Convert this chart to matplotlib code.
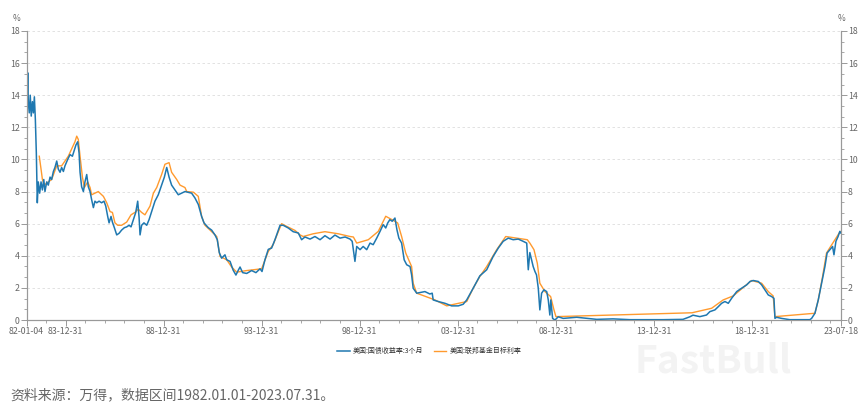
import matplotlib.pyplot as plt
from matplotlib.ticker import MultipleLocator, FixedLocator
import numpy as np

plt.rcParams['font.family'] = ['Noto Sans CJK SC', 'DejaVu Sans']

# 3-month T-bill yield (decimal year, %)
tbill_t = [1982.01, 1982.07, 1982.10, 1982.15, 1982.20, 1982.25, 1982.31, 1982.36, 1982.41, 1982.46,
           1982.51, 1982.56, 1982.61, 1982.68, 1982.75, 1982.82, 1982.89, 1982.95, 1983.04, 1983.12,
           1983.21, 1983.29, 1983.38, 1983.46, 1983.55, 1983.63, 1983.72, 1983.80, 1983.89, 1983.97,
           1984.11, 1984.23, 1984.35, 1984.45, 1984.53, 1984.62, 1984.69, 1984.74, 1984.82, 1984.91,
           1984.99, 1985.08, 1985.16, 1985.25, 1985.33, 1985.42, 1985.50, 1985.59, 1985.71, 1985.84,
           1985.96, 1986.05, 1986.15, 1986.22, 1986.32, 1986.39, 1986.49, 1986.61, 1986.73, 1986.86,
           1987.00, 1987.12, 1987.24, 1987.34, 1987.46, 1987.58, 1987.68, 1987.75, 1987.80, 1987.88,
           1988.00, 1988.14, 1988.26, 1988.39, 1988.56, 1988.73, 1988.90, 1989.04, 1989.16, 1989.28,
           1989.41, 1989.58, 1989.75, 1989.92, 1990.09, 1990.43, 1990.60, 1990.77, 1990.94, 1991.06,
           1991.28, 1991.45, 1991.62, 1991.74, 1991.84, 1991.96, 1992.13, 1992.22, 1992.39, 1992.55,
           1992.69, 1992.81, 1992.90, 1993.03, 1993.24, 1993.49, 1993.71, 1993.92, 1994.02, 1994.17,
           1994.34, 1994.51, 1994.68, 1994.85, 1994.94, 1995.10, 1995.36, 1995.61, 1995.87, 1996.04,
           1996.21, 1996.47, 1996.72, 1996.98, 1997.23, 1997.49, 1997.74, 1998.00, 1998.26, 1998.51,
           1998.62, 1998.76, 1998.85, 1999.02, 1999.18, 1999.36, 1999.53, 1999.69, 1999.87, 2000.04,
           2000.20, 2000.33, 2000.43, 2000.54, 2000.66, 2000.80, 2000.90, 2001.00, 2001.14, 2001.27,
           2001.40, 2001.57, 2001.65, 2001.73, 2001.91, 2002.07, 2002.33, 2002.58, 2002.70, 2002.75,
           2003.01, 2003.35, 2003.69, 2004.03, 2004.28, 2004.46, 2004.79, 2005.13, 2005.48, 2005.81,
           2006.07, 2006.32, 2006.58, 2006.83, 2007.09, 2007.34, 2007.52, 2007.60, 2007.68, 2007.85,
           2007.94, 2008.02, 2008.11, 2008.19, 2008.28, 2008.40, 2008.54, 2008.62, 2008.70, 2008.75,
           2008.84, 2008.96, 2009.13, 2009.38, 2010.07, 2011.09, 2011.92, 2012.79, 2014.47, 2015.49,
           2015.84, 2016.00, 2016.35, 2016.69, 2016.86, 2017.12, 2017.29, 2017.46, 2017.63, 2017.80,
           2017.97, 2018.23, 2018.48, 2018.74, 2018.91, 2019.07, 2019.33, 2019.50, 2019.67, 2019.84,
           2020.01, 2020.13, 2020.18, 2020.26, 2020.52, 2020.94, 2021.96, 2022.05, 2022.22, 2022.39,
           2022.56, 2022.73, 2022.84, 2022.98, 2023.12, 2023.19, 2023.29, 2023.40, 2023.49, 2023.54]
tbill_v = [12.1, 15.4, 13.6, 12.9, 14.0, 12.7, 13.6, 12.9, 13.9, 12.5,
           10.4, 7.3, 8.6, 7.9, 8.6, 8.1, 8.75, 8.0, 8.6, 8.4,
           8.9, 8.75, 9.25, 9.5, 9.9, 9.4, 9.2, 9.5, 9.25, 9.6,
           10.0, 10.3, 10.2, 10.6, 10.9, 11.1, 10.4, 9.2, 8.3, 8.0,
           8.6, 9.06, 8.3, 8.0, 7.5, 7.0, 7.4, 7.3, 7.4, 7.3,
           7.4, 7.1, 6.45, 6.05, 6.45, 6.1, 5.75, 5.3, 5.4, 5.6,
           5.75, 5.8, 5.9, 5.8, 6.25, 6.7, 7.4, 6.4, 5.3, 5.9,
           6.05, 5.9, 6.25, 6.75, 7.4, 7.8, 8.4, 8.9, 9.5, 8.9,
           8.4, 8.1, 7.8, 7.9, 8.0, 7.9, 7.6, 7.2, 6.45, 6.05,
           5.75, 5.6, 5.3, 5.0, 4.2, 3.85, 4.06, 3.75, 3.65, 3.1,
           2.8, 3.1, 3.3, 2.95, 2.9, 3.08, 2.95, 3.19, 3.02, 3.75,
           4.4, 4.48, 5.0, 5.6, 5.9, 5.9, 5.73, 5.5, 5.42, 5.0,
           5.17, 5.04, 5.2, 5.0, 5.25, 5.04, 5.29, 5.1, 5.17, 5.04,
           4.9, 3.65, 4.58, 4.38, 4.58, 4.38, 4.79, 4.69, 5.1, 5.52,
           5.94, 5.73, 6.04, 6.25, 6.15, 6.35, 5.63, 5.1, 4.79, 3.75,
           3.44, 3.33, 2.81, 1.98, 1.67, 1.71, 1.77, 1.62, 1.67, 1.25,
           1.15, 1.04, 0.88, 0.88, 0.98, 1.25, 1.98, 2.75, 3.13, 3.96,
           4.48, 4.9, 5.1, 5.0, 5.04, 4.9, 4.79, 3.13, 4.2, 3.33,
           3.02, 2.81, 1.98, 0.63, 1.67, 1.88, 1.77, 1.25, 0.31, 1.25,
           0.1, 0.0, 0.2, 0.1, 0.17, 0.04, 0.07, 0.02, 0.02, 0.04,
           0.2, 0.3, 0.21, 0.31, 0.52, 0.63, 0.83, 1.04, 1.15, 1.04,
           1.35, 1.77, 1.98, 2.19, 2.4, 2.46, 2.4, 2.19, 1.88, 1.56,
           1.46, 1.35, 0.1, 0.17, 0.1, 0.02, 0.02, 0.1, 0.42, 1.25,
           2.29, 3.33, 4.17, 4.38, 4.58, 4.06, 4.9, 5.2, 5.52, 5.42]

# Fed funds target rate (decimal year, %)
fed_t = [1982.66, 1982.75, 1982.82, 1982.92, 1983.12, 1983.29, 1983.55, 1983.80, 1984.14, 1984.48,
         1984.57, 1984.65, 1984.74, 1984.86, 1984.96, 1985.13, 1985.25, 1985.33, 1985.50, 1985.67,
         1985.93, 1986.10, 1986.27, 1986.39, 1986.52, 1986.66, 1986.86, 1987.12, 1987.34, 1987.54,
         1987.71, 1987.88, 1988.05, 1988.31, 1988.48, 1988.65, 1988.90, 1989.07, 1989.28, 1989.41,
         1989.67, 1989.84, 1990.09, 1990.18, 1990.52, 1990.77, 1990.94, 1991.11, 1991.37, 1991.71,
         1991.88, 1992.22, 1992.47, 1992.73, 1993.24, 1994.00, 1994.34, 1994.59, 1994.85, 1995.02,
         1995.28, 1995.70, 1995.96, 1996.12, 1996.63, 1997.23, 1997.91, 1998.51, 1998.68, 1998.85,
         1999.44, 1999.95, 2000.33, 2000.80, 2000.94, 2001.14, 2001.35, 2001.65, 2001.73, 2001.91,
         2002.84, 2003.44, 2004.46, 2004.79, 2005.13, 2005.48, 2005.99, 2006.45, 2007.55, 2007.68,
         2007.89, 2008.06, 2008.19, 2008.45, 2008.74, 2008.91, 2009.01, 2015.95, 2016.95, 2017.54,
         2018.05, 2018.99, 2019.50, 2019.84, 2020.09, 2020.18, 2022.22, 2022.39, 2022.61, 2022.81,
         2023.02, 2023.24, 2023.46, 2023.54]
fed_v = [10.2, 9.4, 8.75, 8.4, 8.6, 8.75, 9.6, 9.6, 10.2, 11.1,
         11.45, 11.25, 10.2, 8.9, 8.25, 8.6, 8.25, 7.8, 7.9, 8.0,
         7.7, 7.3, 6.75, 6.7, 6.05, 5.9, 5.9, 6.1, 6.55, 6.7,
         6.9, 6.7, 6.55, 7.1, 7.9, 8.25, 9.06, 9.7, 9.8, 9.2,
         8.75, 8.4, 8.25, 8.0, 7.96, 7.7, 6.45, 5.9, 5.6, 5.2,
         3.96, 3.75, 3.3, 2.98, 3.08, 3.19, 4.27, 4.7, 5.5, 6.0,
         5.83, 5.58, 5.3, 5.2, 5.37, 5.5, 5.37, 5.2, 5.17, 4.79,
         5.0, 5.52, 6.46, 6.15, 6.04, 5.2, 4.17, 3.33, 2.29, 1.67,
         1.25, 0.88, 1.15, 1.98, 2.71, 3.33, 4.38, 5.2, 5.0, 4.79,
         4.38, 3.54, 2.29, 1.77, 1.46, 0.63, 0.21, 0.45, 0.73, 1.25,
         1.5, 2.46, 2.29, 1.77, 1.5, 0.21, 0.42, 1.25, 2.71, 4.17,
         4.58, 5.0, 5.42, 5.5]

tick_pos = [1982.01, 1984.0, 1989.0, 1994.0, 1999.0, 2004.0, 2009.0, 2014.0, 2019.0, 2023.54]
tick_labels = ['82-01-04', '83-12-31', '88-12-31', '93-12-31', '98-12-31',
               '03-12-31', '08-12-31', '13-12-31', '18-12-31', '23-07-18']

blue = '#1f78b0'
orange = '#ff9a2e'
gray = '#666666'

fig = plt.figure(figsize=(8.64, 4.12), dpi=100)
ax = fig.add_axes([0.0307, 0.2233, 0.9427, 0.7015])

ax.plot(tbill_t, tbill_v, color=blue, lw=1.1, label='美国:国债收益率:3个月', zorder=3)
ax.plot(fed_t, fed_v, color=orange, lw=1.0, label='美国:联邦基金目标利率', zorder=2)

ax.set_xlim(1982.01, 2023.55)
ax.set_ylim(0, 18)
ax.yaxis.set_major_locator(MultipleLocator(2))
ax.yaxis.set_minor_locator(MultipleLocator(2 / 3))
ax.xaxis.set_major_locator(FixedLocator(tick_pos))
ax.xaxis.set_minor_locator(FixedLocator(np.arange(1983, 2024)))
ax.set_xticklabels(tick_labels)
ax.grid(axis='y', color='#dddddd', ls=(0, (3, 3)), lw=0.6)

ax2 = ax.twinx()
ax2.set_ylim(0, 18)
ax2.yaxis.set_major_locator(MultipleLocator(2))
ax2.yaxis.set_minor_locator(MultipleLocator(2 / 3))

for a in (ax, ax2):
    for s in a.spines.values():
        s.set_color('#999999')
        s.set_linewidth(0.8)
    a.spines['top'].set_visible(False)
    a.tick_params(which='major', length=4, width=0.7, color='#999999', labelsize=6.3,
                  labelcolor=gray, pad=1)
    a.tick_params(which='minor', length=2.5, width=0.6, color='#999999')

ax.text(-0.012, 1.035, '%', transform=ax.transAxes, fontsize=6, color=gray, ha='center')
ax.text(1.0, 1.035, '%', transform=ax.transAxes, fontsize=6, color=gray, ha='center')

fig.legend(loc='center', bbox_to_anchor=(0.497, 0.148), ncol=2, frameon=False,
           fontsize=5, handlelength=1.8, handletextpad=0.5, columnspacing=1.5,
           labelcolor='#333333')

fig.text(0.825, 0.123, 'FastBull', fontsize=28, fontweight='bold', style='italic',
         color='#f3f3f3', ha='center', va='center', zorder=0)

fig.text(0.012, 0.04, '资料来源：万得，数据区间1982.01.01-2023.07.31。', fontsize=10,
         color=gray, ha='left', va='center')

plt.savefig('out.png', dpi=100)
